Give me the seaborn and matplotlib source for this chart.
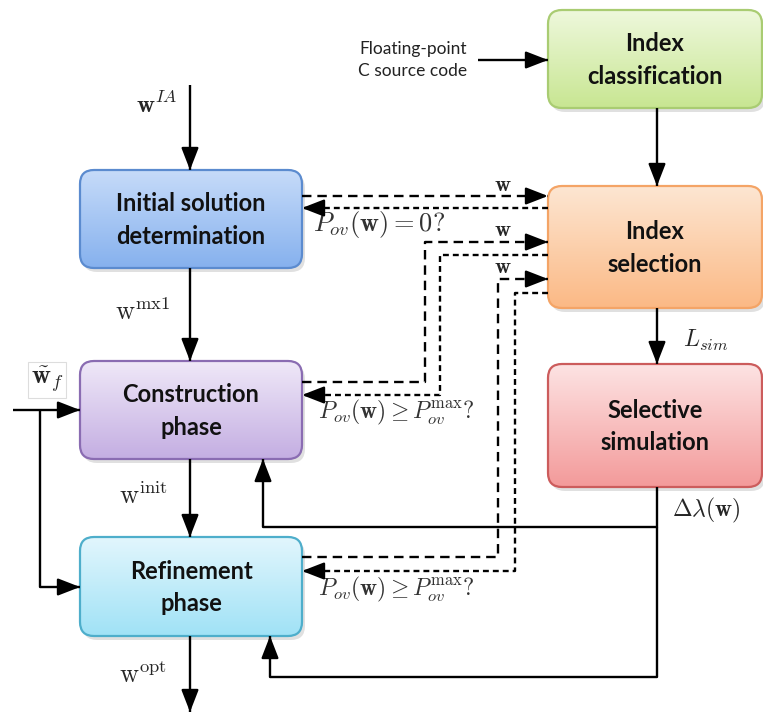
import numpy as np
import matplotlib
matplotlib.use("Agg")
import matplotlib.pyplot as plt
from matplotlib.patches import FancyBboxPatch
from matplotlib.colors import to_rgb
import seaborn as sns

sns.set_theme(style="white")
plt.rcParams['font.family'] = ['Lato', 'DejaVu Sans']
plt.rcParams['mathtext.fontset'] = 'cm'

# ---- content ----
box_labels = ["Initial solution\ndetermination", "Construction\nphase", "Refinement\nphase",
              "Index\nclassification", "Index\nselection", "Selective\nsimulation"]
box_top_colors = ["#c6dbf9", "#efe8f8", "#e2f6fd", "#eef8dc", "#fde6d2", "#fde3e3"]
box_bot_colors = ["#86b1ee", "#c4aee2", "#a0e2f6", "#c8e692", "#fbb985", "#f39a9a"]
box_edge_colors = ["#5b8bcf", "#8a6cb2", "#4eaecb", "#a9cc72", "#f4a466", "#cc5c5c"]
source_text = "Floating-point\nC source code"
flow_labels = [r"$\mathbf{w}^{IA}$", r"$\mathrm{w}^{\mathrm{mx1}}$", r"$\mathrm{w}^{\mathrm{init}}$",
               r"$\mathrm{w}^{\mathrm{opt}}$", r"$\tilde{\mathbf{w}}_f$", r"$L_{sim}$",
               r"$\Delta\lambda(\mathbf{w})$"]
w_label = r"$\mathbf{w}$"
cond_labels = [r"$P_{ov}(\mathbf{w}) = 0?$",
               r"$P_{ov}(\mathbf{w}) \geq P_{ov}^{\max}?$",
               r"$P_{ov}(\mathbf{w}) \geq P_{ov}^{\max}?$"]

W, H = 763, 713
fig = plt.figure(figsize=(W / 100, H / 100), dpi=100)
ax = fig.add_axes([0, 0, 1, 1])
ax.set_xlim(0, W)
ax.set_ylim(H, 0)
ax.axis("off")

# box geometry (x0, y0, x1, y1) in pixel coords
boxes = [(80, 170, 302, 268), (80, 361, 302, 459), (80, 537, 302, 636),
         (548, 10, 762, 108), (548, 186, 762, 308), (548, 364, 762, 487)]


def draw_box(geom, label, ctop, cbot, cedge):
    x0, y0, x1, y1 = geom
    r = 14
    sh = FancyBboxPatch((x0 + r + 3, y0 + r + 4), (x1 - x0) - 2 * r, (y1 - y0) - 2 * r,
                        boxstyle=f"round,pad={r}", fc="#999999", ec="none", alpha=0.3, zorder=1)
    ax.add_patch(sh)
    p = FancyBboxPatch((x0 + r, y0 + r), (x1 - x0) - 2 * r, (y1 - y0) - 2 * r,
                       boxstyle=f"round,pad={r}", fc="none", ec=cedge, lw=1.6, zorder=3)
    ax.add_patch(p)
    t = np.linspace(0, 1, 100)[:, None, None]
    grad = (1 - t) * np.array(to_rgb(ctop))[None, None, :] + t * np.array(to_rgb(cbot))[None, None, :]
    im = ax.imshow(grad, extent=(x0, x1, y1, y0), origin="upper", aspect="auto", zorder=2,
                   interpolation="bilinear")
    im.set_clip_path(p)
    ax.text((x0 + x1) / 2, (y0 + y1) / 2 + 1, label, ha="center", va="center", fontsize=17,
            fontweight="bold", color="#111111", linespacing=1.52, zorder=4)


for g, lab, ct, cb, ce in zip(boxes, box_labels, box_top_colors, box_bot_colors, box_edge_colors):
    draw_box(g, lab, ct, cb, ce)

LW = 1.7
ARW = dict(arrowstyle="-|>,head_length=0.9,head_width=0.35", mutation_scale=15, color="black",
           lw=LW, shrinkA=0, shrinkB=0)


def poly_arrow(pts, ls="-"):
    xs = [p[0] for p in pts]
    ys = [p[1] for p in pts]
    ax.plot(xs, ys, color="black", lw=LW, ls=ls, zorder=5, solid_capstyle="butt")
    (xa, ya), (xb, yb) = pts[-2], pts[-1]
    d = np.hypot(xb - xa, yb - ya)
    k = min(14.0, d) / d
    start = (xb - (xb - xa) * k, yb - (yb - ya) * k)
    ax.annotate("", xy=(xb, yb), xytext=start, arrowprops=ARW, zorder=6)


# solid flow
poly_arrow([(190, 85), (190, 170)])
poly_arrow([(190, 268), (190, 361)])
poly_arrow([(190, 459), (190, 537)])
poly_arrow([(190, 636), (190, 712)])
poly_arrow([(478, 60), (548, 60)])
poly_arrow([(657, 108), (657, 186)])
poly_arrow([(657, 308), (657, 364)])
poly_arrow([(13, 410), (80, 410)])
poly_arrow([(40, 410), (40, 587), (80, 587)])
poly_arrow([(657, 487), (657, 527), (263, 527), (263, 459)])
poly_arrow([(657, 527), (657, 677), (270, 677), (270, 636)])

# dashed flows
D1 = (0, (4.0, 2.5))
D2 = (0, (2.5, 1.7))
poly_arrow([(302, 196), (548, 196)], ls=D1)
poly_arrow([(548, 208), (302, 208)], ls=D2)
poly_arrow([(302, 382), (425, 382), (425, 242), (548, 242)], ls=D1)
poly_arrow([(548, 255), (440, 255), (440, 395), (302, 395)], ls=D2)
poly_arrow([(302, 557), (498, 557), (498, 279), (548, 279)], ls=D1)
poly_arrow([(548, 293), (515, 293), (515, 571), (302, 571)], ls=D2)

# text labels
ax.text(413, 60, source_text, ha="center", va="center", fontsize=12.5, color="#222222",
        linespacing=1.4)
ax.text(157, 104, flow_labels[0], ha="center", va="center", fontsize=18)
ax.text(143, 312, flow_labels[1], ha="center", va="center", fontsize=19)
ax.text(143, 496, flow_labels[2], ha="center", va="center", fontsize=19)
ax.text(143, 675, flow_labels[3], ha="center", va="center", fontsize=19)
ax.text(47, 380, flow_labels[4], ha="center", va="center", fontsize=19,
        bbox=dict(boxstyle="square,pad=0.1", fc="white", ec="#dddddd", lw=0.8))
ax.text(706, 340, flow_labels[5], ha="center", va="center", fontsize=17)
ax.text(706, 510, flow_labels[6], ha="center", va="center", fontsize=17)
for y in (185, 230, 267):
    ax.text(503, y, w_label, ha="center", va="center", fontsize=16)
ax.text(313, 224, cond_labels[0], ha="left", va="center", fontsize=19, color="#333333")
ax.text(318, 412, cond_labels[1], ha="left", va="center", fontsize=17, color="#333333")
ax.text(318, 589, cond_labels[2], ha="left", va="center", fontsize=17, color="#333333")

fig.savefig("out.png", dpi=100)
